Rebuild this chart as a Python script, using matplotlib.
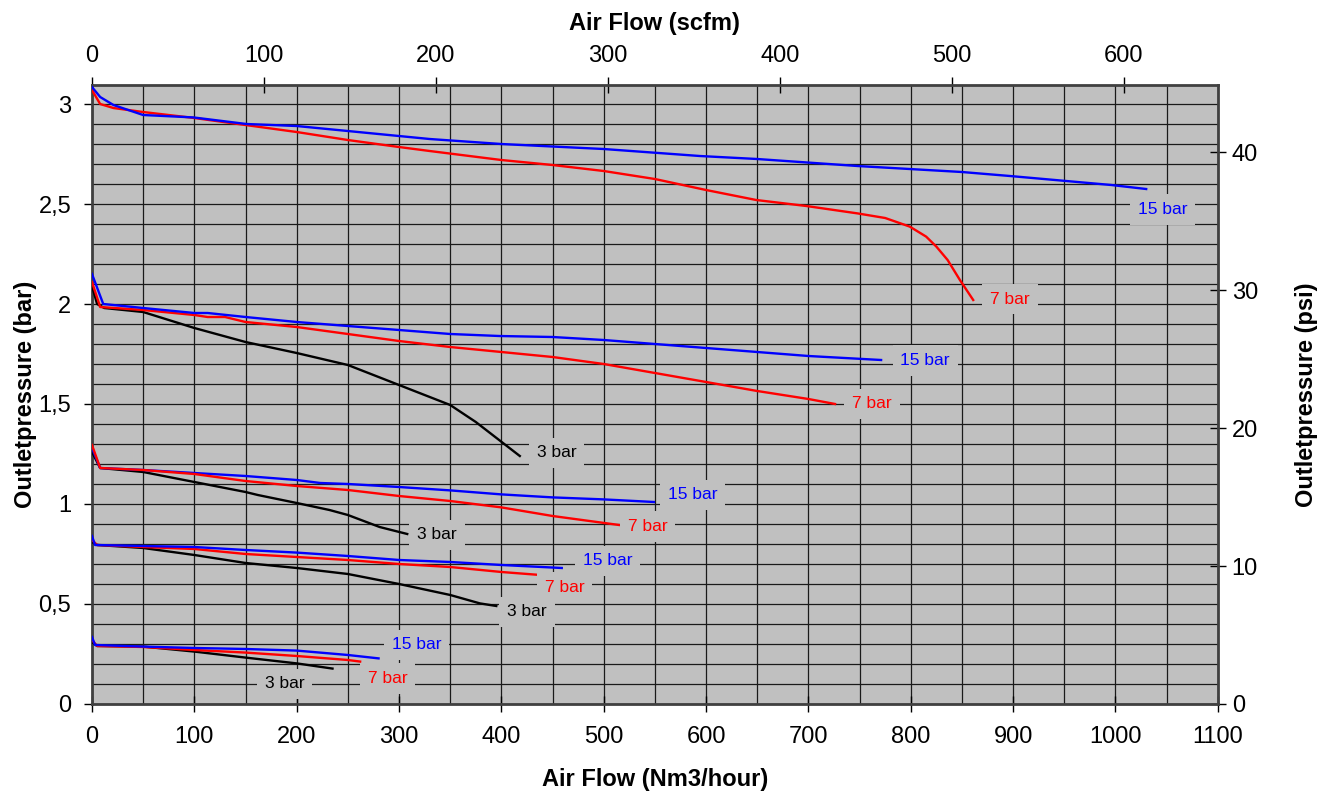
import matplotlib
matplotlib.use("Agg")
import matplotlib.pyplot as plt
from matplotlib.ticker import MultipleLocator, FuncFormatter

plt.rcParams['font.family'] = ['Liberation Sans', 'DejaVu Sans']

# ---- data (flow in Nm3/hour, outlet pressure in bar) ----
# group ~3 bar outlet
a15_flow = [0, 8, 21, 50, 99, 151, 200, 250, 300, 330, 400, 500, 594, 650, 748, 850, 897, 996, 1030]
a15_p = [3.085, 3.035, 2.995, 2.945, 2.933, 2.90, 2.89, 2.865, 2.84, 2.825, 2.80, 2.775, 2.74, 2.725, 2.69, 2.66, 2.64, 2.595, 2.575]
a7_flow = [0, 8, 21, 50, 100, 150, 200, 250, 300, 330, 400, 450, 500, 550, 600, 649, 698, 748, 775, 799, 815, 825, 836, 848, 861]
a7_p = [3.07, 3.00, 2.98, 2.96, 2.93, 2.895, 2.86, 2.82, 2.785, 2.765, 2.72, 2.695, 2.665, 2.625, 2.57, 2.52, 2.49, 2.453, 2.43, 2.387, 2.337, 2.287, 2.22, 2.12, 2.02]

# group ~2 bar outlet
b15_flow = [0, 11, 50, 100, 113, 150, 200, 250, 300, 350, 398, 450, 500, 550, 600, 650, 700, 771]
b15_p = [2.15, 2.0, 1.98, 1.955, 1.955, 1.935, 1.91, 1.89, 1.87, 1.85, 1.84, 1.835, 1.82, 1.80, 1.78, 1.76, 1.74, 1.72]
b7_flow = [0, 8, 50, 100, 113, 130, 150, 200, 250, 300, 350, 400, 450, 500, 550, 600, 650, 700, 726]
b7_p = [2.11, 1.985, 1.97, 1.945, 1.935, 1.935, 1.91, 1.885, 1.85, 1.815, 1.785, 1.76, 1.735, 1.70, 1.655, 1.61, 1.565, 1.525, 1.50]
b3_flow = [0, 5, 12, 50, 100, 150, 200, 250, 300, 350, 375, 418]
b3_p = [2.09, 2.0, 1.98, 1.96, 1.88, 1.81, 1.755, 1.695, 1.595, 1.495, 1.41, 1.24]

# group ~1.2 bar outlet
c15_flow = [0, 8, 50, 100, 150, 200, 223, 250, 300, 350, 400, 450, 500, 549]
c15_p = [1.28, 1.18, 1.17, 1.155, 1.14, 1.12, 1.105, 1.10, 1.085, 1.068, 1.048, 1.033, 1.023, 1.01]
c7_flow = [0, 8, 50, 100, 150, 200, 250, 300, 350, 400, 450, 515]
c7_p = [1.295, 1.18, 1.17, 1.15, 1.115, 1.09, 1.07, 1.04, 1.015, 0.983, 0.94, 0.895]
c3_flow = [0, 8, 50, 100, 150, 162, 200, 232, 250, 281, 308]
c3_p = [1.26, 1.18, 1.16, 1.11, 1.06, 1.045, 1.005, 0.97, 0.945, 0.885, 0.85]

# group ~0.8 bar outlet
d15_flow = [0, 3, 50, 100, 150, 200, 250, 300, 350, 400, 459]
d15_p = [0.84, 0.795, 0.79, 0.785, 0.77, 0.757, 0.74, 0.72, 0.71, 0.695, 0.68]
d7_flow = [0, 5, 50, 100, 150, 200, 250, 300, 350, 400, 438]
d7_p = [0.82, 0.795, 0.785, 0.775, 0.75, 0.735, 0.72, 0.70, 0.685, 0.66, 0.645]
d3_flow = [0, 5, 50, 100, 150, 200, 250, 300, 350, 379, 395]
d3_p = [0.81, 0.795, 0.78, 0.745, 0.705, 0.68, 0.65, 0.60, 0.545, 0.503, 0.49]

# group ~0.3 bar outlet
e15_flow = [0, 3, 50, 100, 150, 200, 250, 280]
e15_p = [0.335, 0.295, 0.287, 0.28, 0.275, 0.267, 0.245, 0.228]
e7_flow = [0, 5, 50, 100, 150, 200, 250, 262]
e7_p = [0.32, 0.29, 0.285, 0.27, 0.257, 0.24, 0.22, 0.212]
e3_flow = [0, 5, 50, 100, 150, 200, 235]
e3_p = [0.31, 0.29, 0.287, 0.262, 0.232, 0.203, 0.177]

series_labels = ["15 bar", "7 bar", "3 bar"]
x_ticks = [0, 100, 200, 300, 400, 500, 600, 700, 800, 900, 1000, 1100]
y_ticks = [0, 0.5, 1, 1.5, 2, 2.5, 3]
scfm_ticks = [0, 100, 200, 300, 400, 500, 600]
psi_ticks = [0, 10, 20, 30, 40]

SCFM_FACTOR = 1.68   # Nm3/h per scfm (as drawn)
PSI_FACTOR = 14.5    # psi per bar

# ---- figure ----
fig = plt.figure(figsize=(13.33, 7.96), dpi=100)
ax = fig.add_axes([0.069, 0.1156, 0.8446, 0.7776])
ax.set_facecolor('#C0C0C0')
ax.set_xlim(0, 1100)
ax.set_ylim(0, 3.095)

ax.xaxis.set_minor_locator(MultipleLocator(50))
ax.yaxis.set_minor_locator(MultipleLocator(0.1))
ax.grid(which='both', color='#1a1a1a', linewidth=0.9)
ax.set_axisbelow(True)

colors = {"15 bar": '#0000FF', "7 bar": '#FF0000', "3 bar": '#000000'}
curves = [
    (a7_flow, a7_p, "7 bar"), (a15_flow, a15_p, "15 bar"),
    (b3_flow, b3_p, "3 bar"), (b7_flow, b7_p, "7 bar"), (b15_flow, b15_p, "15 bar"),
    (c3_flow, c3_p, "3 bar"), (c15_flow, c15_p, "15 bar"), (c7_flow, c7_p, "7 bar"),
    (d3_flow, d3_p, "3 bar"), (d7_flow, d7_p, "7 bar"), (d15_flow, d15_p, "15 bar"),
    (e3_flow, e3_p, "3 bar"), (e7_flow, e7_p, "7 bar"), (e15_flow, e15_p, "15 bar"),
]
for fx, py, lab in curves:
    ax.plot(fx, py, color=colors[lab], linewidth=1.7, solid_joinstyle='round', zorder=3)

# curve labels (text anchor positions)
label_pos = [
    ("15 bar", 1046, 2.473), ("7 bar", 897, 2.025),
    ("15 bar", 814, 1.717), ("7 bar", 762, 1.50), ("3 bar", 454, 1.255),
    ("15 bar", 587, 1.045), ("7 bar", 543, 0.887), ("3 bar", 337, 0.845),
    ("15 bar", 504, 0.715), ("7 bar", 462, 0.582), ("3 bar", 425, 0.46),
    ("15 bar", 317, 0.295), ("7 bar", 289, 0.128), ("3 bar", 188, 0.10),
]
for lab, lx, ly in label_pos:
    ax.text(lx, ly, lab, color=colors[lab], fontsize=12.5, ha='center', va='center', zorder=4,
            bbox=dict(boxstyle='square,pad=0.45', facecolor='#C0C0C0', edgecolor='none'))

# main axes ticks
ax.set_xticks(x_ticks)
ax.set_yticks(y_ticks)
ax.yaxis.set_major_formatter(FuncFormatter(lambda v, p: ('%g' % v).replace('.', ',')))
ax.tick_params(axis='x', which='major', direction='inout', length=12, width=1, labelsize=17, pad=10)
ax.tick_params(axis='y', which='major', direction='out', length=6, width=1, labelsize=17, pad=9)
ax.tick_params(which='minor', length=0)
for s in ax.spines.values():
    s.set_color('#404040')
    s.set_linewidth(2)

ax.set_xlabel('Air Flow (Nm3/hour)', fontsize=17, fontweight='bold', labelpad=14)
ax.set_ylabel('Outletpressure (bar)', fontsize=17, fontweight='bold', labelpad=1)

top = ax.secondary_xaxis('top', functions=(lambda v: v / SCFM_FACTOR, lambda v: v * SCFM_FACTOR))
top.set_xticks(scfm_ticks)
top.tick_params(direction='inout', length=12, width=1, labelsize=17, pad=7)
top.spines['top'].set_visible(False)
top.set_xlabel('Air Flow (scfm)', fontsize=17, fontweight='bold', labelpad=11)

right = ax.secondary_yaxis('right', functions=(lambda v: v * PSI_FACTOR, lambda v: v / PSI_FACTOR))
right.set_yticks(psi_ticks)
right.tick_params(direction='inout', length=12, width=1, labelsize=17, pad=4)
right.spines['right'].set_visible(False)
right.set_ylabel('Outletpressure (psi)', fontsize=17, fontweight='bold', labelpad=27)

fig.savefig('out.png', dpi=100, facecolor='white')
